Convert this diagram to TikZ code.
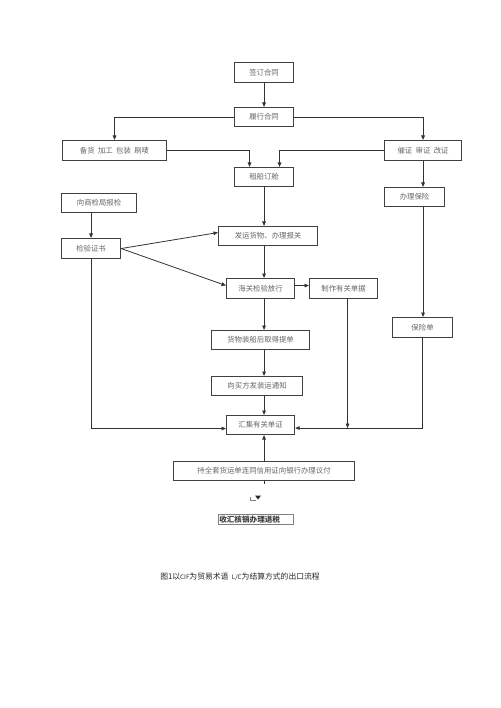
\documentclass[tikz,border=0pt]{standalone}
\usepackage{fontspec}
\newfontfamily\cjk{Noto Sans CJK SC}
\usetikzlibrary{arrows.meta}
\begin{document}
\begin{tikzpicture}[x=1pt,y=-1pt,
  box/.style={draw=black!75, line width=1.1pt, fill=white, inner sep=0pt, anchor=north west,
    font=\cjk\fontsize{7.4}{8}\selectfont, text=black!60},
  conn/.style={draw=black!80, line width=0.8pt},
  arr/.style={conn, -{Triangle[length=4.5pt,width=3.6pt]}}]
\useasboundingbox[fill=white] (0,0) rectangle (500,708);
\newcommand{\bx}[6]{\node[box, minimum width=#4-#2, minimum height=#5-#3] (#1) at (#2,#3) {#6};}
\bx{a}{234}{62}{293}{82}{签订合同}
\bx{b}{234}{107}{293}{126}{履行合同}
\bx{c}{62}{140}{166}{160}{备货\ \ 加工\ \ 包装\ \ 刷唛}
\bx{d}{384}{140}{461}{160}{催证\ \ 审证\ \ 改证}
\bx{e}{234}{167}{293}{186}{租船订舱}
\bx{f}{384}{187}{444}{206}{办理保险}
\bx{g}{61}{193}{136}{212}{向商检局报检}
\bx{h}{61}{238}{120}{258}{检验证书}
\bx{i}{218}{226}{317}{245}{发运货物、办理报关}
\bx{j}{226}{278}{294}{298}{海关检验放行}
\bx{k}{309}{278}{377}{298}{制作有关单据}
\bx{l}{392}{317}{452}{337}{保险单}
\bx{m}{211}{330}{309}{349}{货物装船后取得提单}
\bx{n}{211}{376}{302}{395}{向买方发装运通知}
\bx{o}{226}{415}{294}{434}{汇集有关单证}
\bx{p}{173}{461}{354}{480}{持全套货运单连同信用证向银行办理议付\hspace{8pt}}
\node[draw=black!50, line width=0.5pt, anchor=north west, minimum width=75pt, minimum height=10pt,
  inner sep=0pt, font=\cjk\bfseries\fontsize{7.6}{8}\selectfont, text=black!75] (q) at (218,514)
  {\makebox[75pt][l]{\hspace{1pt}收汇核销办理退税}};
\node[font=\cjk\fontsize{7.8}{9}\selectfont, text=black!85] (cap) at (240,577)
  {图1以\scalebox{0.8}{CIF}为贸易术语\ \ \scalebox{0.8}{L/C}为结算方式的出口流程};
% connectors
\draw[arr] (a) -- (b);
\draw[arr] (b.west) -| (c.north);
\draw[arr] (b.east) -| (d.north);
\draw[arr] (c.east) -| ([xshift=-14.5pt]e.north);
\draw[arr] (d.west) -| ([xshift=15.5pt]e.north);
\draw[arr] (e.south) -- (e.south |- i.north);
\draw[arr] (e.south |- i.south) -- (e.south |- j.north);
\draw[arr] (e.south |- j.south) -- (e.south |- m.north);
\draw[arr] (e.south |- m.south) -- (e.south |- n.north);
\draw[arr] (e.south |- n.south) -- (e.south |- o.north);
\draw[arr] (e.south |- p.north) -- (e.south |- o.south);
\draw[conn] (e.south |- p.south) -- ++(0,3);
\draw[arr] (h.north |- g.south) -- (h.north);
\draw[arr] (h.east) -- ([yshift=3.5pt]i.west);
\draw[arr] (h.east) -- ([yshift=3pt]j.west);
\draw[arr] ([yshift=3pt]j.east) -- ([yshift=3pt]k.west);
\coordinate (oe) at ([yshift=-3pt]o.east);
\coordinate (ow) at ([yshift=-3.5pt]o.west);
\draw[arr] (h.south) |- (ow);
\draw[arr] (l.south) |- (oe);
\coordinate (kx) at ([xshift=4pt]k.south);
\draw[arr] (kx) -- (kx |- oe);
\draw[arr] (d.south) -- (d.south |- f.north);
\draw[arr] (d.south |- f.south) -- (d.south |- l.north);
% small marker
\draw[black!50, line width=0.5pt] (250,497) -- (250,500.5) -- (256,500.5);
\fill[black!85] (255,495.5) -- (261,495.5) -- (258,499.5) -- cycle;
\end{tikzpicture}
\end{document}
